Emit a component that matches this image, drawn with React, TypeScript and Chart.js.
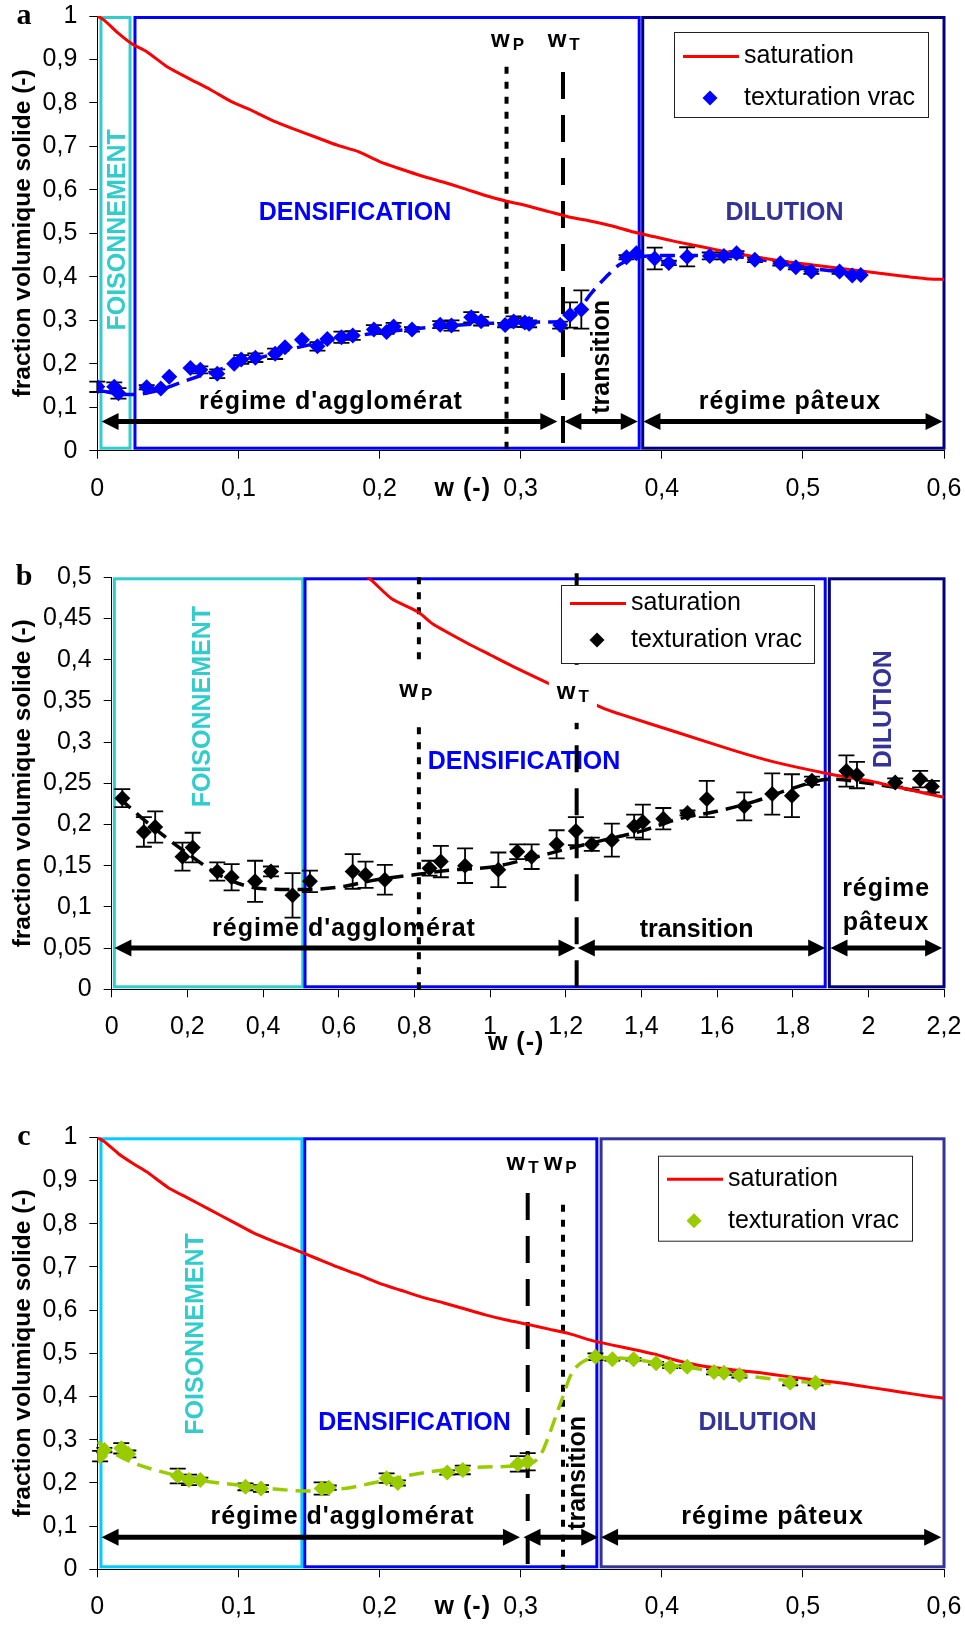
import React, { useEffect, useRef } from 'react';
import { Chart, registerables } from 'chart.js';
Chart.register(...registerables);

const FONT = "'Liberation Sans', Arial, Helvetica, sans-serif";
const SERIF = "'Liberation Serif', 'Times New Roman', serif";
Chart.defaults.font.family = FONT;

// ================= Panel a =================
const xTicksA = [0, 0.1, 0.2, 0.3, 0.4, 0.5, 0.6];
const yTicksA = [0, 0.1, 0.2, 0.3, 0.4, 0.5, 0.6, 0.7, 0.8, 0.9, 1];
const satA_w = [0, 0.005, 0.015, 0.025, 0.035, 0.05, 0.065, 0.08, 0.095, 0.11, 0.125, 0.14, 0.155, 0.17, 0.185, 0.2, 0.215, 0.23, 0.245, 0.26, 0.275, 0.29, 0.305, 0.32, 0.335, 0.35, 0.365, 0.38, 0.395, 0.41, 0.43, 0.45, 0.47, 0.49, 0.51, 0.53, 0.55, 0.57, 0.59, 0.6];
const satA_v = [1.0, 0.99, 0.96, 0.935, 0.918, 0.882, 0.856, 0.831, 0.803, 0.782, 0.758, 0.739, 0.721, 0.703, 0.688, 0.665, 0.648, 0.632, 0.618, 0.603, 0.587, 0.574, 0.563, 0.55, 0.537, 0.528, 0.517, 0.503, 0.492, 0.481, 0.468, 0.455, 0.444, 0.434, 0.426, 0.418, 0.41, 0.402, 0.395, 0.394];
const texA_w = [0.0, 0.012, 0.015, 0.035, 0.045, 0.051, 0.066, 0.073, 0.085, 0.097, 0.102, 0.112, 0.126, 0.133, 0.145, 0.156, 0.163, 0.173, 0.181, 0.196, 0.205, 0.21, 0.223, 0.243, 0.251, 0.265, 0.272, 0.289, 0.295, 0.303, 0.306, 0.328, 0.335, 0.343, 0.375, 0.382, 0.395, 0.405, 0.418, 0.434, 0.444, 0.453, 0.466, 0.484, 0.495, 0.506, 0.526, 0.535, 0.541];
const texA_v = [0.147, 0.147, 0.132, 0.146, 0.143, 0.17, 0.19, 0.186, 0.177, 0.2, 0.21, 0.214, 0.223, 0.238, 0.255, 0.24, 0.257, 0.261, 0.265, 0.279, 0.273, 0.286, 0.279, 0.29, 0.288, 0.307, 0.298, 0.289, 0.297, 0.295, 0.292, 0.289, 0.312, 0.325, 0.445, 0.454, 0.442, 0.432, 0.446, 0.448, 0.448, 0.454, 0.439, 0.431, 0.422, 0.412, 0.412, 0.403, 0.404];
const texA_err = [0.012, 0.01, 0.012, 0.005, 0, 0, 0, 0.008, 0.01, 0, 0.01, 0.01, 0.012, 0, 0, 0.01, 0, 0.013, 0.01, 0.01, 0.004, 0.008, 0.005, 0.008, 0.012, 0.012, 0.01, 0.005, 0.012, 0.01, 0.008, 0.008, 0.029, 0.044, 0.005, 0, 0.025, 0.005, 0.022, 0.008, 0.008, 0.005, 0.005, 0.005, 0.005, 0.005, 0.005, 0, 0];
const fitA_w = [0, 0.01, 0.02, 0.03, 0.04, 0.05, 0.06, 0.08, 0.1, 0.12, 0.14, 0.16, 0.18, 0.2, 0.22, 0.24, 0.26, 0.28, 0.3, 0.32, 0.33, 0.34, 0.35, 0.36, 0.37, 0.38, 0.39, 0.41, 0.43, 0.45, 0.47, 0.49, 0.51, 0.53, 0.545];
const fitA_v = [0.14, 0.133, 0.129, 0.13, 0.136, 0.146, 0.158, 0.18, 0.2, 0.218, 0.236, 0.25, 0.262, 0.272, 0.279, 0.285, 0.29, 0.293, 0.295, 0.296, 0.297, 0.32, 0.362, 0.398, 0.428, 0.443, 0.448, 0.449, 0.449, 0.447, 0.44, 0.428, 0.418, 0.41, 0.405];
const zoneA_start = [0.0026, 0.0267, 0.3865];
const zoneA_end = [0.0232, 0.384, 0.6];
const zoneA_names = ['FOISONNEMENT', 'DENSIFICATION', 'DILUTION'];
const zoneA_lx = [0.0147, 0.1826, 0.487];
const zoneA_ly = [0.508, 0.547, 0.547];
const regimeA_names = ["régime d'agglomérat", 'transition', 'régime pâteux'];
const regimeA_lx = [0.1656, 0.3576, 0.4908];
const regimeA_ly = [0.112, 0.216, 0.112];
const arrowA_start = [0.003, 0.331, 0.387];
const arrowA_end = [0.326, 0.383, 0.599];
const arrowA_y = 0.067;
const markA_names = ['P', 'T'];
const markA_w = [0.29, 0.33];
const markA_top = [0.883, 0.871];
const markA_lx = [0.2907, 0.3305];
const markA_ly = [0.945, 0.945];

// ================= Panel b =================
const xTicksB = [0, 0.2, 0.4, 0.6, 0.8, 1, 1.2, 1.4, 1.6, 1.8, 2, 2.2];
const yTicksB = [0, 0.05, 0.1, 0.15, 0.2, 0.25, 0.3, 0.35, 0.4, 0.45, 0.5];
const satB_w = [0.64, 0.68, 0.74, 0.81, 0.85, 0.94, 1.0, 1.06, 1.16, 1.3, 1.35, 1.5, 1.65, 1.75, 1.89, 2.0, 2.1, 2.2];
const satB_v = [0.51, 0.499, 0.474, 0.458, 0.443, 0.42, 0.406, 0.392, 0.37, 0.341, 0.333, 0.311, 0.289, 0.276, 0.262, 0.253, 0.243, 0.233];
const texB_w = [0.028, 0.085, 0.115, 0.187, 0.214, 0.279, 0.317, 0.379, 0.421, 0.478, 0.524, 0.637, 0.671, 0.722, 0.84, 0.87, 0.934, 1.022, 1.072, 1.11, 1.176, 1.227, 1.269, 1.322, 1.381, 1.404, 1.458, 1.522, 1.573, 1.672, 1.746, 1.798, 1.851, 1.942, 1.97, 2.071, 2.137, 2.168];
const texB_v = [0.232, 0.191, 0.197, 0.161, 0.172, 0.143, 0.136, 0.131, 0.143, 0.114, 0.131, 0.143, 0.139, 0.133, 0.147, 0.155, 0.15, 0.145, 0.167, 0.161, 0.176, 0.192, 0.176, 0.181, 0.198, 0.203, 0.207, 0.214, 0.231, 0.222, 0.237, 0.235, 0.253, 0.265, 0.26, 0.251, 0.255, 0.246];
const texB_err = [0.011, 0.018, 0.019, 0.017, 0.018, 0.011, 0.016, 0.025, 0.006, 0.027, 0.013, 0.021, 0.016, 0.018, 0.009, 0.019, 0.021, 0.021, 0.009, 0.015, 0.017, 0.017, 0.008, 0.02, 0.014, 0.021, 0.013, 0.003, 0.022, 0.017, 0.025, 0.026, 0.005, 0.019, 0.016, 0.005, 0.01, 0.007];
const fitB_w = [0.02, 0.1, 0.2, 0.3, 0.4, 0.5, 0.6, 0.7, 0.8, 0.9, 1.0, 1.1, 1.2, 1.3, 1.4, 1.5, 1.6, 1.7, 1.8, 1.9, 2.0, 2.1, 2.18];
const fitB_v = [0.232, 0.2, 0.165, 0.135, 0.122, 0.121, 0.124, 0.133, 0.139, 0.145, 0.148, 0.158, 0.17, 0.181, 0.192, 0.207, 0.216, 0.228, 0.244, 0.255, 0.25, 0.243, 0.238];
const zoneB_start = [0.007, 0.511, 1.897];
const zoneB_end = [0.505, 1.886, 2.2];
const zoneB_names = ['FOISONNEMENT', 'DENSIFICATION', 'DILUTION'];
const zoneB_lx = [0.242, 1.09, 2.042];
const zoneB_ly = [0.343, 0.276, 0.34];
const regimeB_names = ["régime d'agglomérat", 'transition', 'régime', 'pâteux'];
const regimeB_lx = [0.614, 1.546, 2.047, 2.047];
const regimeB_ly = [0.0732, 0.072, 0.1218, 0.0808];
const arrowB_start = [0.007, 1.232, 1.9];
const arrowB_end = [1.226, 1.886, 2.195];
const arrowB_y = 0.05;
const markB_names = ['P', 'T'];
const markB_w = [0.812, 1.229];
const markB_top = [0.5, 0.505];
const markB_lx = [0.804, 1.219];
const markB_ly = [0.363, 0.361];

// ================= Panel c =================
const xTicksC = [0, 0.1, 0.2, 0.3, 0.4, 0.5, 0.6];
const yTicksC = [0, 0.1, 0.2, 0.3, 0.4, 0.5, 0.6, 0.7, 0.8, 0.9, 1];
const satC_w = satA_w;
const satC_v = [1.0, 0.99, 0.962, 0.94, 0.92, 0.884, 0.858, 0.832, 0.806, 0.78, 0.759, 0.74, 0.72, 0.7, 0.682, 0.662, 0.646, 0.63, 0.617, 0.603, 0.589, 0.577, 0.567, 0.556, 0.545, 0.53, 0.519, 0.509, 0.498, 0.484, 0.47, 0.462, 0.455, 0.446, 0.438, 0.43, 0.42, 0.41, 0.4, 0.396];
const texC_w = [0.002, 0.005, 0.017, 0.022, 0.057, 0.065, 0.073, 0.105, 0.116, 0.159, 0.164, 0.205, 0.213, 0.248, 0.259, 0.298, 0.305, 0.353, 0.365, 0.38, 0.396, 0.406, 0.418, 0.437, 0.444, 0.455, 0.491, 0.509];
const texC_v = [0.262, 0.276, 0.28, 0.267, 0.216, 0.207, 0.207, 0.191, 0.187, 0.187, 0.189, 0.211, 0.2, 0.224, 0.23, 0.244, 0.249, 0.492, 0.486, 0.486, 0.477, 0.469, 0.469, 0.457, 0.455, 0.45, 0.432, 0.432];
const texC_err = [0.012, 0.005, 0.012, 0.008, 0.017, 0.012, 0.005, 0.008, 0.008, 0.014, 0.005, 0.011, 0.006, 0.005, 0.01, 0.018, 0.02, 0.008, 0.003, 0.003, 0.003, 0.003, 0.003, 0.006, 0.005, 0.006, 0.006, 0.006];
const fitC_w = [0, 0.01, 0.025, 0.05, 0.075, 0.1, 0.125, 0.15, 0.175, 0.2, 0.225, 0.25, 0.275, 0.3, 0.31, 0.315, 0.32, 0.325, 0.33, 0.335, 0.34, 0.345, 0.35, 0.36, 0.38, 0.4, 0.42, 0.44, 0.46, 0.48, 0.5, 0.52];
const fitC_v = [0.295, 0.272, 0.247, 0.222, 0.205, 0.195, 0.186, 0.181, 0.187, 0.203, 0.22, 0.232, 0.237, 0.24, 0.25, 0.27, 0.31, 0.355, 0.4, 0.446, 0.47, 0.482, 0.488, 0.49, 0.486, 0.476, 0.467, 0.457, 0.448, 0.44, 0.434, 0.43];
const zoneC_start = [0.0026, 0.147, 0.357];
const zoneC_end = [0.145, 0.354, 0.6];
const zoneC_names = ['FOISONNEMENT', 'DENSIFICATION', 'DILUTION'];
const zoneC_lx = [0.07, 0.2248, 0.4678];
const zoneC_ly = [0.5447, 0.338, 0.338];
const regimeC_names = ["régime d'agglomérat", 'transition', 'régime pâteux'];
const regimeC_lx = [0.1738, 0.3408, 0.4785];
const regimeC_ly = [0.1218, 0.223, 0.1218];
const arrowC_start = [0.003, 0.302, 0.357];
const arrowC_end = [0.2995, 0.355, 0.598];
const arrowC_y = 0.074;
const markC_names = ['T', 'P'];
const markC_w = [0.305, 0.33];
const markC_top = [0.871, 0.844];
const markC_lx = [0.3013, 0.328];
const markC_ly = [0.94, 0.94];

const legendLabels = ['saturation', 'texturation vrac'];

const pairs = (xs: number[], ys: number[]) => xs.map((x, i) => ({ x, y: ys[i] }));
const fmt = (v: number) => String(parseFloat(Number(v).toFixed(3))).replace('.', ',');

function drawArrow(ctx: CanvasRenderingContext2D, x0: number, x1: number, y: number) {
  const hl = 17, hw = 8.5;
  ctx.save();
  ctx.strokeStyle = '#000';
  ctx.fillStyle = '#000';
  ctx.lineWidth = 5;
  ctx.beginPath();
  ctx.moveTo(x0 + hl - 2, y);
  ctx.lineTo(x1 - hl + 2, y);
  ctx.stroke();
  ctx.beginPath();
  ctx.moveTo(x0, y);
  ctx.lineTo(x0 + hl, y - hw);
  ctx.lineTo(x0 + hl, y + hw);
  ctx.closePath();
  ctx.fill();
  ctx.beginPath();
  ctx.moveTo(x1, y);
  ctx.lineTo(x1 - hl, y - hw);
  ctx.lineTo(x1 - hl, y + hw);
  ctx.closePath();
  ctx.fill();
  ctx.restore();
}

function drawText(ctx: CanvasRenderingContext2D, text: string, x: number, y: number, font: string, color: string, rot: boolean, spacing = '0px') {
  ctx.save();
  ctx.font = font;
  ctx.fillStyle = color;
  ctx.textAlign = 'center';
  ctx.textBaseline = 'middle';
  (ctx as any).letterSpacing = spacing;
  ctx.translate(x, y);
  if (rot) ctx.rotate(-Math.PI / 2);
  ctx.fillText(text, 0, 0);
  ctx.restore();
}

function drawMarkLabel(ctx: CanvasRenderingContext2D, sub: string, cx: number, cy: number, bg: boolean) {
  ctx.save();
  const big = `bold 24px ${FONT}`;
  const small = `bold 17px ${FONT}`;
  ctx.font = big;
  const ww = ctx.measureText('w').width;
  ctx.font = small;
  const sw = ctx.measureText(sub).width;
  const total = ww + 3 + sw;
  const x0 = cx - total / 2;
  if (bg) {
    ctx.fillStyle = '#fff';
    ctx.fillRect(x0 - 8, cy - 27, total + 16, 58);
  }
  ctx.fillStyle = '#000';
  ctx.textAlign = 'left';
  ctx.textBaseline = 'alphabetic';
  ctx.font = big;
  ctx.fillText('w', x0, cy + 7);
  ctx.font = small;
  ctx.fillText(sub, x0 + ww + 3, cy + 10);
  ctx.restore();
}

type Spec = any;

function annotPlugin(spec: Spec) {
  return {
    id: 'annot',
    beforeDatasetsDraw(chart: any) {
      const { ctx, chartArea: ca, scales } = chart;
      const xs = scales.x, ys = scales.y;
      const px = (v: number) => xs.getPixelForValue(v);
      const py = (v: number) => ys.getPixelForValue(v);
      spec.zoneStart.forEach((s: number, i: number) => {
        const x0 = px(s), x1 = px(spec.zoneEnd[i]);
        ctx.save();
        ctx.strokeStyle = spec.zoneColors[i];
        ctx.lineWidth = 3;
        ctx.strokeRect(x0, ca.top + 1.5, x1 - x0, ca.bottom - ca.top - 4);
        ctx.restore();
      });
      spec.zoneNames.forEach((t: string, i: number) => {
        drawText(ctx, t, px(spec.zoneLx[i]), py(spec.zoneLy[i]), `bold 25px ${FONT}`, spec.zoneTextColors[i], spec.zoneRot[i]);
      });
      spec.regimeNames.forEach((t: string, i: number) => {
        drawText(ctx, t, px(spec.regimeLx[i]), py(spec.regimeLy[i]), `bold 25px ${FONT}`, '#000', spec.regimeRot[i], t === 'transition' ? '0px' : '1px');
      });
      spec.markW.forEach((w: number, i: number) => {
        ctx.save();
        ctx.strokeStyle = '#000';
        ctx.lineWidth = 4;
        ctx.setLineDash(spec.markNames[i] === 'P' ? [7, 8] : [27, 16]);
        ctx.beginPath();
        ctx.moveTo(px(w), Math.max(py(spec.markTop[i]), ca.top - 4));
        ctx.lineTo(px(w), ca.bottom);
        ctx.stroke();
        ctx.restore();
      });
      ctx.save();
      ctx.strokeStyle = '#000';
      ctx.lineWidth = 1.8;
      spec.texW.forEach((w: number, i: number) => {
        const e = spec.texErr[i];
        if (!e) return;
        const x = px(w), y0 = py(spec.texV[i] - e), y1 = py(spec.texV[i] + e);
        ctx.beginPath();
        ctx.moveTo(x, y0); ctx.lineTo(x, y1);
        ctx.moveTo(x - 8, y0); ctx.lineTo(x + 8, y0);
        ctx.moveTo(x - 8, y1); ctx.lineTo(x + 8, y1);
        ctx.stroke();
      });
      ctx.restore();
    },
    afterDatasetsDraw(chart: any) {
      const { ctx, chartArea: ca, scales } = chart;
      const xs = scales.x, ys = scales.y;
      const px = (v: number) => xs.getPixelForValue(v);
      const py = (v: number) => ys.getPixelForValue(v);
      spec.markNames.forEach((n: string, i: number) => {
        drawMarkLabel(ctx, n, px(spec.markLx[i]), py(spec.markLy[i]), spec.markBg);
      });
      spec.arrowStart.forEach((s: number, i: number) => {
        drawArrow(ctx, px(s), px(spec.arrowEnd[i]), py(spec.arrowY));
      });
      const L = spec.legend;
      ctx.save();
      ctx.fillStyle = '#fff';
      ctx.fillRect(L.x, L.y, L.w, L.h);
      ctx.strokeStyle = '#222';
      ctx.lineWidth = 1;
      ctx.strokeRect(L.x + 0.5, L.y + 0.5, L.w, L.h);
      ctx.strokeStyle = '#ff0000';
      ctx.lineWidth = 3;
      ctx.beginPath();
      ctx.moveTo(L.x + 9, L.y + L.r1);
      ctx.lineTo(L.x + 65, L.y + L.r1);
      ctx.stroke();
      ctx.fillStyle = spec.pointColor;
      const dx = L.x + 36, dy = L.y + L.r2;
      ctx.beginPath();
      ctx.moveTo(dx, dy - 7.5); ctx.lineTo(dx + 7.5, dy); ctx.lineTo(dx, dy + 7.5); ctx.lineTo(dx - 7.5, dy);
      ctx.closePath();
      ctx.fill();
      ctx.fillStyle = '#000';
      ctx.font = `25px ${FONT}`;
      ctx.textAlign = 'left';
      ctx.textBaseline = 'middle';
      ctx.fillText(legendLabels[0], L.x + 70, L.y + L.r1);
      ctx.fillText(legendLabels[1], L.x + 70, L.y + L.r2);
      ctx.restore();
      ctx.save();
      ctx.font = `bold 30px ${SERIF}`;
      ctx.fillStyle = '#000';
      ctx.textAlign = 'center';
      ctx.textBaseline = 'alphabetic';
      ctx.fillText(spec.letter, 24, ca.top + 8);
      ctx.restore();
      drawText(ctx, 'w (-)', px(spec.wLabelX), ca.bottom + spec.wLabelDy, `bold 25px ${FONT}`, '#000', false, '1px');
    },
  };
}

function buildConfig(spec: Spec, H: number) {
  return {
    type: 'scatter',
    data: {
      datasets: [
        {
          label: legendLabels[1],
          data: pairs(spec.texW, spec.texV),
          showLine: false,
          pointStyle: 'rectRot',
          pointRadius: 8,
          pointBackgroundColor: spec.pointColor,
          pointBorderColor: spec.pointColor,
          pointBorderWidth: 0,
          order: 0,
        },
        {
          label: legendLabels[0],
          type: 'line',
          data: pairs(spec.satW, spec.satV),
          borderColor: '#ff0000',
          borderWidth: 3,
          pointRadius: 0,
          fill: false,
          tension: 0.2,
          order: 1,
        },
        {
          label: 'fit',
          type: 'line',
          data: pairs(spec.fitW, spec.fitV),
          borderColor: spec.pointColor,
          borderWidth: 3.5,
          borderDash: [15, 8],
          pointRadius: 0,
          fill: false,
          tension: 0.4,
          cubicInterpolationMode: 'monotone',
          order: 2,
        },
      ],
    },
    options: {
      responsive: false,
      animation: false,
      events: [],
      layout: { autoPadding: false, padding: { top: spec.plotTop, right: 965 - spec.plotRight, left: 0, bottom: 0 } },
      plugins: { legend: { display: false }, tooltip: { enabled: false }, title: { display: false } },
      scales: {
        x: {
          type: 'linear',
          min: 0,
          max: spec.xTicks[spec.xTicks.length - 1],
          afterBuildTicks: (s: any) => { s.ticks = spec.xTicks.map((v: number) => ({ value: v })); },
          ticks: { callback: (v: number) => fmt(v), color: '#000', font: { size: 25 }, padding: 15, maxRotation: 0, autoSkip: false },
          grid: { drawOnChartArea: false, color: '#000', tickLength: 8, lineWidth: 1 },
          border: { color: '#000', width: 1 },
          afterFit: (s: any) => {
            s.height = H - spec.plotBottom;
            s.paddingLeft = 0; s.paddingRight = 0; s.paddingTop = 0; s.paddingBottom = 0;
          },
        },
        y: {
          type: 'linear',
          min: 0,
          max: spec.yTicks[spec.yTicks.length - 1],
          afterBuildTicks: (s: any) => { s.ticks = spec.yTicks.map((v: number) => ({ value: v })); },
          ticks: { callback: (v: number) => fmt(v), color: '#000', font: { size: 25 }, padding: 12, autoSkip: false },
          grid: { drawOnChartArea: false, color: '#000', tickLength: 8, lineWidth: 1 },
          border: { color: '#000', width: 1 },
          title: { display: true, text: 'fraction volumique solide (-)', color: '#000', font: { size: 24.5, weight: 'bold' }, padding: { top: 9, bottom: 0 } },
          afterFit: (s: any) => {
            s.width = spec.plotLeft;
            s.paddingLeft = 0; s.paddingRight = 0; s.paddingTop = 0; s.paddingBottom = 0;
          },
        },
      },
    },
    plugins: [annotPlugin(spec)],
  };
}

const specA: Spec = {
  letter: 'a', xTicks: xTicksA, yTicks: yTicksA,
  satW: satA_w, satV: satA_v, texW: texA_w, texV: texA_v, texErr: texA_err, fitW: fitA_w, fitV: fitA_v,
  pointColor: '#0000ff',
  zoneStart: zoneA_start, zoneEnd: zoneA_end, zoneNames: zoneA_names, zoneLx: zoneA_lx, zoneLy: zoneA_ly,
  zoneColors: ['#33cccc', '#0000ff', '#000080'], zoneTextColors: ['#33cccc', '#0000ff', '#333399'], zoneRot: [true, false, false],
  regimeNames: regimeA_names, regimeLx: regimeA_lx, regimeLy: regimeA_ly, regimeRot: [false, true, false],
  arrowStart: arrowA_start, arrowEnd: arrowA_end, arrowY: arrowA_y,
  markNames: markA_names, markW: markA_w, markTop: markA_top, markLx: markA_lx, markLy: markA_ly, markBg: false,
  legend: { x: 674, y: 32, w: 254, h: 85, r1: 24.5, r2: 66 },
  wLabelX: 0.259, wLabelDy: 38,
  plotTop: 16, plotBottom: 450.7, plotLeft: 97.3, plotRight: 944,
};

const specB: Spec = {
  letter: 'b', xTicks: xTicksB, yTicks: yTicksB,
  satW: satB_w, satV: satB_v, texW: texB_w, texV: texB_v, texErr: texB_err, fitW: fitB_w, fitV: fitB_v,
  pointColor: '#000000',
  zoneStart: zoneB_start, zoneEnd: zoneB_end, zoneNames: zoneB_names, zoneLx: zoneB_lx, zoneLy: zoneB_ly,
  zoneColors: ['#33cccc', '#0000ff', '#000080'], zoneTextColors: ['#33cccc', '#0000ff', '#333399'], zoneRot: [true, false, true],
  regimeNames: regimeB_names, regimeLx: regimeB_lx, regimeLy: regimeB_ly, regimeRot: [false, false, false, false],
  arrowStart: arrowB_start, arrowEnd: arrowB_end, arrowY: arrowB_y,
  markNames: markB_names, markW: markB_w, markTop: markB_top, markLx: markB_lx, markLy: markB_ly, markBg: true,
  legend: { x: 561, y: 65, w: 253, h: 78, r1: 18.5, r2: 55 },
  wLabelX: 1.069, wLabelDy: 54,
  plotTop: 57.3, plotBottom: 469.3, plotLeft: 111.7, plotRight: 944,
};

const specC: Spec = {
  letter: 'c', xTicks: xTicksC, yTicks: yTicksC,
  satW: satC_w, satV: satC_v, texW: texC_w, texV: texC_v, texErr: texC_err, fitW: fitC_w, fitV: fitC_v,
  pointColor: '#99cc00',
  zoneStart: zoneC_start, zoneEnd: zoneC_end, zoneNames: zoneC_names, zoneLx: zoneC_lx, zoneLy: zoneC_ly,
  zoneColors: ['#00ccff', '#0000ff', '#333399'], zoneTextColors: ['#33cccc', '#0000ff', '#333399'], zoneRot: [true, false, false],
  regimeNames: regimeC_names, regimeLx: regimeC_lx, regimeLy: regimeC_ly, regimeRot: [false, true, false],
  arrowStart: arrowC_start, arrowEnd: arrowC_end, arrowY: arrowC_y,
  markNames: markC_names, markW: markC_w, markTop: markC_top, markLx: markC_lx, markLy: markC_ly, markBg: false,
  legend: { x: 658, y: 80.7, w: 254, h: 85, r1: 23.5, r2: 65 },
  wLabelX: 0.259, wLabelDy: 38,
  plotTop: 62.3, plotBottom: 494.3, plotLeft: 97.3, plotRight: 944,
};

function Panel({ spec, top, height }: { spec: Spec; top: number; height: number }) {
  const ref = useRef<HTMLCanvasElement>(null);
  useEffect(() => {
    if (!ref.current) return;
    const chart = new Chart(ref.current, buildConfig(spec, height) as any);
    return () => chart.destroy();
  }, [spec, height]);
  return (
    <canvas
      ref={ref}
      width={965}
      height={height}
      style={{ position: 'absolute', left: 0, top, width: 965, height, display: 'block' }}
    />
  );
}

export default function App() {
  return (
    <div style={{ position: 'absolute', left: 0, top: 0, width: 965, height: 1626, background: '#fff' }}>
      <Panel spec={specA} top={0} height={520} />
      <Panel spec={specB} top={520} height={555} />
      <Panel spec={specC} top={1075} height={551} />
    </div>
  );
}
